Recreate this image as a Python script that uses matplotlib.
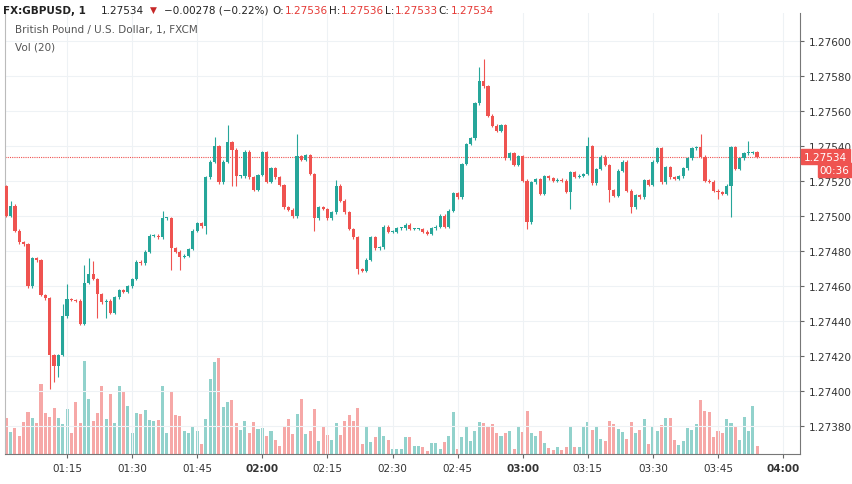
import matplotlib
matplotlib.use("Agg")
import matplotlib.pyplot as plt
import numpy as np

BASE = 1.27500
open0 = 17.0
# closes in 0.00001 units relative to 1.27500, one per minute starting 01:01
closes = [0.2, 5.9, -8.4, -15.0, -16.2, -40.2, -24.2, -25.3, -45.1, -47.0,
          -79.4, -85.5, -79.4, -57.3, -47.4, -48.0, -48.4, -61.7, -38.3, -33.1,
          -36.0, -44.6, -49.3, -48.4, -55.4, -46.5, -42.3, -43.2, -40.2, -36.0,
          -26.1, -27.0, -20.4, -11.2, -11.2, -12.2, -1.3, -1.3, -18.5, -20.4,
          -23.2, -22.7, -18.9, -8.4, -4.0, -5.9, 22.1, 31.0, 39.8, 19.2,
          31.0, 42.1, 37.9, 22.7, 22.7, 36.8, 22.1, 15.1, 23.4, 36.4,
          19.6, 27.2, 22.1, 17.7, 5.0, 3.6, -0.2, 34.1, 32.0, 34.9,
          24.0, -1.3, 5.0, 4.0, -1.3, 2.1, 17.3, 8.8, 2.1, -7.4,
          -12.2, -30.3, -31.2, -24.9, -12.2, -18.5, -17.9, -6.1, -8.9, -8.9,
          -7.0, -7.0, -4.9, -7.4, -7.4, -7.4, -8.9, -10.3, -7.0, -6.1,
          0.2, -6.1, 3.0, 12.9, 10.7, 29.7, 41.1, 44.4, 64.3, 77.1,
          74.1, 57.3, 51.6, 48.8, 52.0, 33.0, 36.0, 29.1, 34.1, 20.2,
          -3.6, 19.2, 21.1, 12.6, 22.7, 21.5, 20.2, 20.7, 20.2, 13.9,
          25.0, 22.5, 23.0, 24.0, 39.8, 18.7, 26.9, 33.9, 29.1, 14.9,
          11.6, 25.9, 31.0, 14.5, 5.0, 12.0, 10.7, 20.6, 17.7, 31.0,
          38.7, 19.2, 27.8, 22.1, 21.1, 22.6, 27.2, 32.9, 38.7, 39.2,
          33.9, 20.2, 19.6, 14.5, 13.5, 12.6, 17.3, 39.2, 26.9, 32.9,
          35.8, 36.0, 36.4, 34.0]
volumes = [110, 66, 79, 55, 97, 127, 110, 93, 210, 123,
           113, 138, 108, 90, 136, 62, 156, 92, 280, 166,
           101, 125, 206, 106, 182, 92, 204, 188, 144, 64,
           124, 121, 133, 103, 99, 103, 206, 62, 188, 118,
           114, 68, 62, 80, 70, 29, 106, 225, 276, 289,
           143, 157, 162, 95, 73, 99, 64, 98, 75, 77,
           53, 69, 41, 25, 81, 106, 60, 121, 165, 60,
           69, 136, 40, 84, 58, 41, 93, 56, 100, 117,
           100, 138, 31, 83, 36, 51, 83, 53, 43, 16,
           16, 16, 51, 51, 23, 23, 20, 10, 33, 33,
           16, 36, 53, 127, 16, 51, 83, 38, 70, 97,
           95, 83, 90, 64, 55, 63, 70, 16, 81, 66,
           131, 63, 53, 70, 33, 18, 13, 20, 11, 22,
           85, 20, 20, 81, 97, 73, 83, 46, 40, 101,
           90, 75, 66, 45, 97, 62, 73, 105, 30, 83,
           68, 88, 109, 109, 41, 26, 40, 77, 73, 90,
           162, 129, 127, 51, 68, 64, 107, 95, 85, 43,
           111, 70, 145, 23]
# notable wick extremes: candle number -> (high, low) ; None = just beyond body
wicks = {2: (8.8, None), 11: (None, -98.9), 12: (None, -95.0), 13: (None, -92.0),
         14: (-50.0, None), 15: (-39.0, None), 19: (-28.0, None), 20: (-24.0, None),
         21: (-25.5, None), 22: (None, -58.5), 24: (None, -58.5), 37: (3.0, None),
         39: (None, -30.7), 41: (None, -31.0), 47: (None, -10.3), 49: (45.0, None),
         52: (52.0, None), 53: (None, 17.0), 54: (None, 17.0), 68: (46.9, None),
         72: (None, -8.4), 77: (20.6, None), 82: (None, -33.1), 110: (84.9, None),
         111: (90.0, None), 121: (None, -7.4), 131: (None, 4.0), 135: (45.0, None),
         140: (None, 8.0), 145: (None, 2.0), 161: (47.0, None), 168: (None, -0.8),
         172: (43.0, None), 165: (None, 10.0)}
price_ticks = [1.27380, 1.27400, 1.27420, 1.27440, 1.27460, 1.27480, 1.27500,
               1.27520, 1.27540, 1.27560, 1.27580, 1.27600]
time_ticks = [15, 30, 45, 60, 75, 90, 105, 120, 135, 150, 165, 180]
time_labels = ["01:15", "01:30", "01:45", "02:00", "02:15", "02:30", "02:45",
               "03:00", "03:15", "03:30", "03:45", "04:00"]
last_price = 1.27534

GREEN = "#26a69a"
RED = "#ef5350"

fig = plt.figure(figsize=(8.52, 4.85), dpi=100)
ax = fig.add_axes([5/852, 1-455/485, 795/852, 441/485])
axv = ax.twinx()

n = len(closes)
x = np.arange(1, n + 1)
opens = [open0] + closes[:-1]
o = BASE + np.array(opens) * 1e-5
c = BASE + np.array(closes) * 1e-5
cols = [GREEN if cc >= oo else RED for oo, cc in zip(o, c)]

hi = np.maximum(o, c) + 0.8e-5
lo = np.minimum(o, c) - 0.8e-5
for k, (h, l) in wicks.items():
    if h is not None:
        hi[k-1] = BASE + h * 1e-5
    if l is not None:
        lo[k-1] = BASE + l * 1e-5

axv.bar(x, volumes, width=0.7, color=cols, alpha=0.5, zorder=1)
axv.set_ylim(0, 1330)
axv.axis("off")

ax.set_zorder(axv.get_zorder() + 1)
ax.patch.set_visible(False)
ax.vlines(x, lo, hi, colors=cols, linewidth=0.8, zorder=3)
body_h = np.maximum(np.abs(c - o), 0.5e-5)
ax.bar(x, body_h, bottom=np.minimum(o, c), width=0.72, color=cols, zorder=4)

ax.set_xlim(0.7, 183.9)
ax.set_ylim(1.27364, 1.27616)
ax.set_yticks(price_ticks)
ax.set_xticks(time_ticks)
ax.grid(True, color="#eef2f5", linewidth=0.8, zorder=0)
ax.tick_params(length=3, color="#666666")
ax.yaxis.tick_right()
ax.set_yticklabels([f"{t:.5f}" for t in price_ticks], fontsize=7.5, color="#333333")
ax.set_xticklabels(time_labels, fontsize=7.5, color="#333333")
for lab in ax.get_xticklabels():
    if lab.get_text() in ("02:00", "03:00", "04:00"):
        lab.set_fontweight("bold")
for s in ["top", "left"]:
    ax.spines[s].set_visible(False)
ax.spines["right"].set_color("#777777")
ax.spines["bottom"].set_color("#777777")
ax.spines["left"].set_visible(True)
ax.spines["left"].set_color("#bbbbbb")

ax.axhline(last_price, color=RED, linestyle=(0, (1, 1)), linewidth=0.8, zorder=2)
ax.text(1.005, last_price, f"{last_price:.5f}", transform=ax.get_yaxis_transform(),
        fontsize=7.5, color="white", va="center", ha="left",
        bbox=dict(boxstyle="square,pad=0.25", fc=RED, ec=RED), zorder=10, clip_on=False)
ax.text(1.025, last_price - 0.000078, "00:36", transform=ax.get_yaxis_transform(),
        fontsize=7.5, color="white", va="center", ha="left",
        bbox=dict(boxstyle="square,pad=0.2", fc=RED, ec=RED), zorder=10, clip_on=False)

ax.text(0.012, 0.975, "British Pound / U.S. Dollar, 1, FXCM", transform=ax.transAxes,
        fontsize=7.5, color="#555555", va="top")
ax.text(0.012, 0.935, "Vol (20)", transform=ax.transAxes, fontsize=7.5,
        color="#555555", va="top")

fig.text(0.004, 0.988, "FX:GBPUSD, 1", fontsize=7.5, fontweight="bold", va="top",
         color="#222222")
fig.text(0.118, 0.988, "1.27534", fontsize=7.5, va="top", color="#222222")
fig.text(0.176, 0.988, "\u25bc", fontsize=6.5, va="top", color="#c62828")
fig.text(0.192, 0.988, "\u22120.00278 (\u22120.22%)", fontsize=7.5, va="top", color="#222222")
fig.text(0.320, 0.988, "O:", fontsize=7.5, va="top", color="#222222")
fig.text(0.334, 0.988, "1.27536", fontsize=7.5, va="top", color="#e53935")
fig.text(0.386, 0.988, "H:", fontsize=7.5, va="top", color="#222222")
fig.text(0.400, 0.988, "1.27536", fontsize=7.5, va="top", color="#e53935")
fig.text(0.452, 0.988, "L:", fontsize=7.5, va="top", color="#222222")
fig.text(0.463, 0.988, "1.27533", fontsize=7.5, va="top", color="#e53935")
fig.text(0.515, 0.988, "C:", fontsize=7.5, va="top", color="#222222")
fig.text(0.529, 0.988, "1.27534", fontsize=7.5, va="top", color="#e53935")

fig.savefig("out.png", dpi=100)
